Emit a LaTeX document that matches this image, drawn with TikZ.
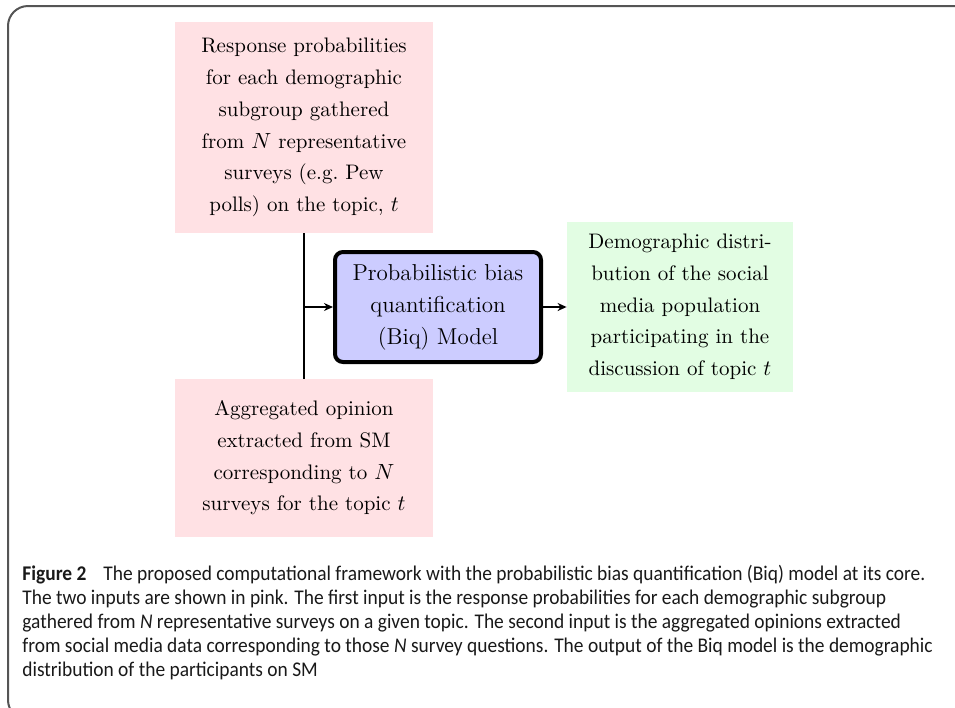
\documentclass[tikz,border=0pt]{standalone}
\usepackage{fontspec}
\newfontfamily\capfont[FakeStretch=0.93]{Carlito}
\usetikzlibrary{arrows.meta}
\definecolor{pinkfill}{HTML}{FFE1E4}
\definecolor{bluefill}{HTML}{CCCCFF}
\definecolor{greenfill}{HTML}{E2FDE3}
\definecolor{framegray}{HTML}{555555}
\tikzset{
  inbox/.style={fill=pinkfill, draw=none, align=center, inner sep=0pt,
    minimum width=129pt, font=\fontsize{10.5}{15.85}\selectfont},
  outbox/.style={fill=greenfill, draw=none, align=center, inner sep=0pt,
    minimum width=113pt, minimum height=85pt, font=\fontsize{10.5}{15.85}\selectfont},
  modelbox/.style={fill=bluefill, draw=black, line width=2pt, rounded corners=4pt,
    align=center, inner sep=0pt, minimum width=103pt, minimum height=55pt,
    font=\fontsize{11.5}{16}\selectfont},
  conn/.style={line width=1pt},
  arr/.style={line width=1pt, -{Stealth[length=4.5pt,width=4pt]}},
  capline/.style={anchor=base west, inner sep=0pt, font=\capfont\fontsize{10.45}{12}\selectfont, text=black!90}
}
\begin{document}
\begin{tikzpicture}[x=0.5pt,y=-0.5pt]
\useasboundingbox (0,0) rectangle (955,708);
\draw[framegray, line width=1pt, rounded corners=10pt] (8,6) rectangle (975,720);
\node[inbox, minimum height=105.5pt] (in1) at (304,127.5)
  {Response probabilities\\for each demographic\\subgroup gathered\\from $N$ representative\\surveys (e.g.\ Pew\\polls) on the topic, $t$};
\node[inbox, minimum height=79pt] (in2) at (304,458)
  {Aggregated opinion\\extracted from SM\\corresponding to $N$\\surveys for the topic $t$};
\node[modelbox] (biq) at (438,307)
  {Probabilistic bias\\quantification\\(Biq) Model};
\node[outbox] (out) at (680,307)
  {Demographic distri-\\bution of the social\\media population\\participating in the\\discussion of topic $t$};
\coordinate (j) at (in1.south |- biq.west);
\draw[conn] (in1.south) -- (in2.north);
\draw[arr] (j) -- (biq.west);
\draw[arr] (biq.east) -- (out.west);
\node[capline] (c1) at (22,580) {\textbf{Figure 2}\hspace{0.6em} The proposed computational framework with the probabilistic bias quantification (Biq) model at its core.};
\node[capline] (c2) at (22,604) {The two inputs are shown in pink. The first input is the response probabilities for each demographic subgroup};
\node[capline] (c3) at (22,628) {gathered from \textit{N} representative surveys on a given topic. The second input is the aggregated opinions extracted};
\node[capline] (c4) at (22,652) {from social media data corresponding to those \textit{N} survey questions. The output of the Biq model is the demographic};
\node[capline] (c5) at (22,676) {distribution of the participants on SM};
\end{tikzpicture}
\end{document}
